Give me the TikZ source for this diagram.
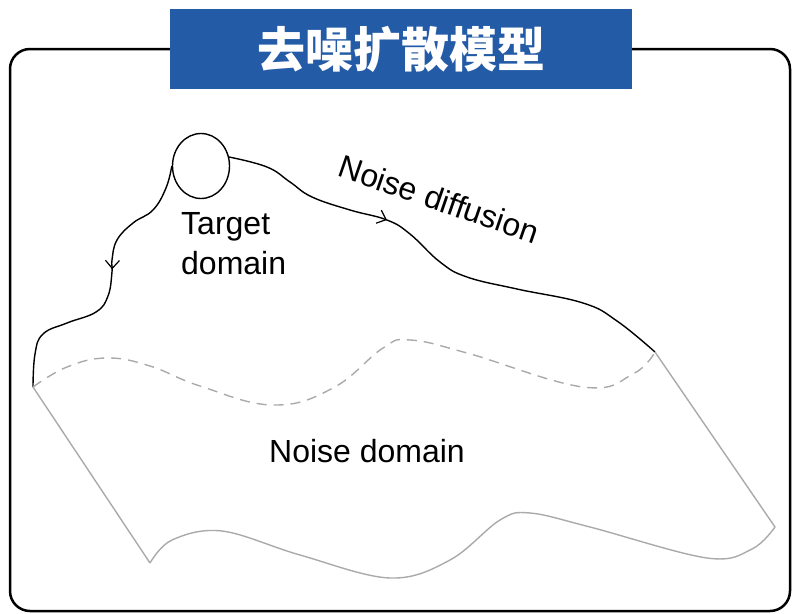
\documentclass[tikz,border=0pt]{standalone}
\usepackage{fontspec}
\setmainfont{Liberation Sans}
\newfontfamily\cjk{Noto Sans CJK SC}
\usetikzlibrary{arrows.meta,decorations.markings,shapes.geometric}
\definecolor{titleblue}{HTML}{235BA6}
\definecolor{lightgray}{HTML}{AAAAAA}
\tikzset{
  frame/.style={draw=black,line width=2.5pt,rounded corners=20pt},
  titlebox/.style={fill=titleblue,draw=none,minimum width=462pt,minimum height=80pt,inner sep=0pt,text=white,font=\cjk\bfseries\fontsize{48}{52}\selectfont},
  lbl/.style={font=\fontsize{32}{40}\selectfont,inner sep=0pt,align=left},
  flow/.style={draw=black,line width=1.4pt},
  noise/.style={draw=lightgray,line width=1.4pt},
  midarrow/.style={postaction={decorate},decoration={markings,mark=at position #1 with {\arrow{Straight Barb[length=8pt,width=14pt,line width=1.2pt]}}}}
}
\begin{document}
\begin{tikzpicture}[x=1pt,y=-1pt]
\useasboundingbox (0,0) rectangle (792,613);
\draw[frame] (10,49) rectangle (790,611);
\node[titlebox] (title) at (401,49) {去噪扩散模型};
\node[draw=black,line width=1.4pt,ellipse,minimum width=57pt,minimum height=65pt,inner sep=0pt] (target) at (201,166) {};
\coordinate (nl) at (33,387);
\coordinate (nr) at (655,352);
\coordinate (bl) at (150,563);
\coordinate (br) at (775,527);
% left (denoising) path
\draw[flow,midarrow=0.44] plot[smooth,tension=0.7] coordinates {(target.west) (166,188) (153,210) (133,223) (117,240) (112,260) (112,272) (108,296) (96,312) (67,323) (43,334) (35,354) (nl)};
% right (noise diffusion) path
\draw[flow,midarrow=0.36] plot[smooth,tension=0.7] coordinates {(229,157) (267,167) (290,182) (312,197) (350,210) (387,220) (410,234) (440,262) (467,277) (517,289) (583,303) (617,321) (nr)};
% dashed upper edge of noise domain
\draw[noise,dashed,dash pattern=on 10pt off 7pt] plot[smooth,tension=0.7] coordinates {(nl) (67,367) (107,358) (150,366) (200,386) (273,405) (333,388) (383,348) (410,340) (467,353) (583,387) (633,374) (nr)};
% noise domain outline
\draw[noise] (nl) -- (bl);
\draw[noise] plot[smooth,tension=0.6] coordinates {(bl) (172,540) (222,531) (300,555) (390,578) (450,560) (500,520) (530,513) (590,527) (707,558) (752,549) (br)};
\draw[noise] (br) -- (nr);
% labels
\node[lbl,anchor=north west] (tlabel) at (181,212) {Target\\domain};
\node[lbl] (ndomain) at (367,451) {Noise domain};
\node[lbl,rotate=-19] (ndiff) at (439,199) {Noise diffusion};
\end{tikzpicture}
\end{document}
